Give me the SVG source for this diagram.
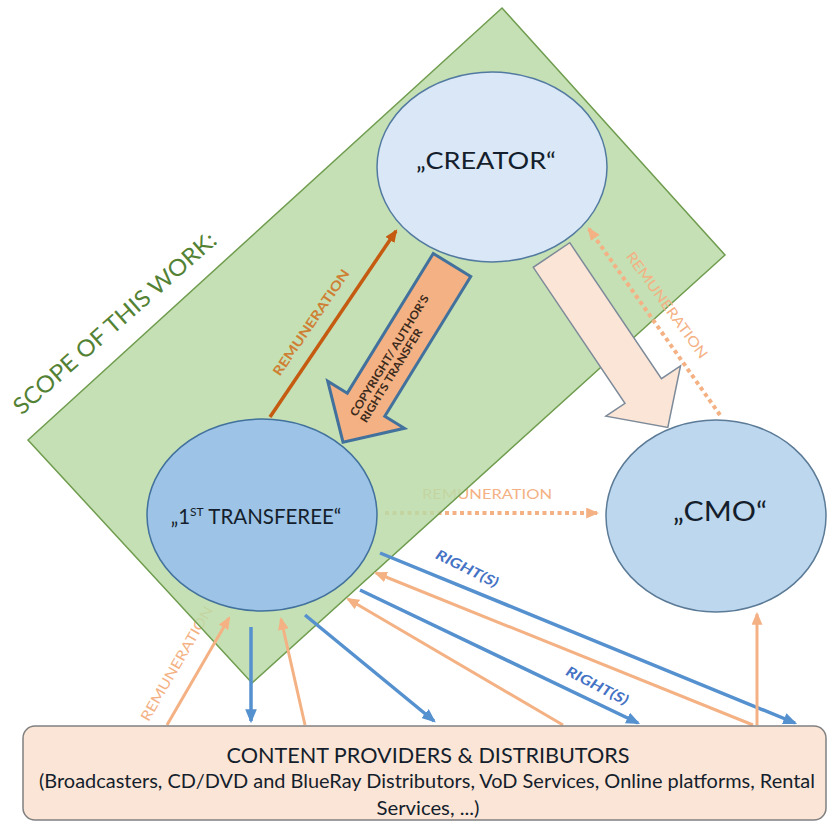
<svg xmlns="http://www.w3.org/2000/svg" width="827" height="822" viewBox="0 0 827 822">
<style>
text{font-family:Lato,"Open Sans","Liberation Sans",sans-serif}
.blue{stroke:#5590cf;stroke-width:3.5;fill:none;marker-end:url(#hb)}
.or{stroke:#f4b183;stroke-width:3;fill:none;marker-end:url(#ho)}
.dot{stroke:#f4b183;stroke-width:4;fill:none;stroke-dasharray:4 3.5;marker-end:url(#ho)}
.lbl{fill:#f4b183;font-size:14px;text-anchor:middle}
.rt{fill:#4472c4;font-size:14px;font-weight:bold;font-style:italic;text-anchor:middle}
.node text{fill:#141e2c;text-anchor:middle}
</style>
<defs>
<marker id="hb" viewBox="0 0 12 10" refX="10" refY="5" markerWidth="14" markerHeight="12" markerUnits="userSpaceOnUse" orient="auto"><path d="M0,0 L12,5 L0,10 z" fill="#5590cf"/></marker>
<marker id="ho" viewBox="0 0 12 10" refX="10" refY="5" markerWidth="13" markerHeight="11" markerUnits="userSpaceOnUse" orient="auto"><path d="M0,0 L12,5 L0,10 z" fill="#f4b183"/></marker>
<marker id="hd" viewBox="0 0 12 10" refX="10" refY="5" markerWidth="13" markerHeight="11" markerUnits="userSpaceOnUse" orient="auto"><path d="M0,0 L12,5 L0,10 z" fill="#c55a11"/></marker>
<path id="barrow" d="M0,-22 L164,-22 L164,-45 L208,0 L164,45 L164,22 L0,22 Z"/>
</defs>

<g id="connectors-under">
<path class="dot" d="M385,513 L597,513"/>
<text class="lbl" x="487" y="499" font-size="16" textLength="130" lengthAdjust="spacingAndGlyphs">REMUNERATION</text>
<text class="lbl" transform="translate(181,666) rotate(-60)" textLength="130" lengthAdjust="spacingAndGlyphs">REMUNERATION</text>
</g>

<g id="scope">
<polygon points="502,8 725,255 252,683 28,440" fill="#bbdba7" fill-opacity="0.85" stroke="#6f9c4e" stroke-width="1.5"/>
<text transform="translate(120,329) rotate(-41.4)" text-anchor="middle" font-size="23" fill="#548235" textLength="262" lengthAdjust="spacingAndGlyphs">SCOPE OF THIS WORK:</text>
</g>

<g id="connectors">
<path class="blue" d="M251,627 L251,721"/>
<path class="blue" d="M305,615 L434,721"/>
<path class="blue" d="M360,590 L638,723"/>
<path class="blue" d="M380,553 L795,723"/>
<path class="or" d="M167,725 L229,618"/>
<path class="or" d="M305,725 L281,619"/>
<path class="or" d="M563,725 L348,599"/>
<path class="or" d="M753,725 L376,573"/>
<path class="or" d="M757,725 L757,614"/>
<path class="dot" d="M720,415 L589,229"/>
<path d="M270,417 L396,231" stroke="#c55a11" stroke-width="3.5" fill="none" marker-end="url(#hd)"/>
<text class="rt" transform="translate(465,573) rotate(26)" textLength="68" lengthAdjust="spacingAndGlyphs">RIGHT(S)</text>
<text class="rt" transform="translate(595,690) rotate(27)" textLength="68" lengthAdjust="spacingAndGlyphs">RIGHT(S)</text>
<text transform="translate(315,325) rotate(-55.8)" text-anchor="middle" font-size="13" font-weight="bold" fill="#cf7f33" textLength="125" lengthAdjust="spacingAndGlyphs">REMUNERATION</text>
<text class="lbl" transform="translate(663,308) rotate(54)" textLength="128" lengthAdjust="spacingAndGlyphs">REMUNERATION</text>
<g id="transfer-arrow">
<use href="#barrow" transform="translate(452,265) rotate(121.6)" fill="#f4b183" stroke="#41719c" stroke-width="3" stroke-linejoin="miter"/>
<text transform="translate(399.6,350.2) rotate(-58.4)" font-size="11" font-weight="bold" fill="#3a2a1c">
<tspan x="-80" y="-2" textLength="140" lengthAdjust="spacingAndGlyphs">COPYRIGHT/ AUTHOR’S</tspan>
<tspan x="-80" y="10" textLength="108" lengthAdjust="spacingAndGlyphs">RIGHTS TRANSFER</tspan>
</text>
</g>
<use id="cmo-arrow" href="#barrow" transform="translate(551.5,255) rotate(56)" fill="#fbe5d6" stroke="#7d8a99" stroke-width="1.5"/>
</g>

<g id="creator" class="node">
<ellipse cx="492" cy="167" rx="115" ry="95" fill="#dae7f6" stroke="#527aa0" stroke-width="1.5"/>
<text x="486" y="169" font-size="23" textLength="140" lengthAdjust="spacingAndGlyphs">„CREATOR“</text>
</g>

<g id="transferee" class="node">
<ellipse cx="262" cy="515" rx="115" ry="96" fill="#9dc3e6" stroke="#41719c" stroke-width="1.5"/>
<text x="256" y="524" font-size="20.5">„1<tspan font-size="12" dy="-8">ST</tspan><tspan dy="8"> TRANSFEREE“</tspan></text>
</g>

<g id="cmo" class="node">
<ellipse cx="716" cy="516" rx="110" ry="96" fill="#bdd7ee" stroke="#5a7a96" stroke-width="1.5"/>
<text x="720" y="521" font-size="26" textLength="94" lengthAdjust="spacingAndGlyphs">„CMO“</text>
</g>

<g id="providers" class="node">
<rect x="23" y="726" width="803" height="94" rx="12" fill="#fbe5d6" stroke="#808080" stroke-width="1.5"/>
<text x="428" y="763" font-size="20.5" textLength="403" lengthAdjust="spacingAndGlyphs">CONTENT PROVIDERS &amp; DISTRIBUTORS</text>
<text x="427" y="788" font-size="19.5" textLength="776" lengthAdjust="spacingAndGlyphs">(Broadcasters, CD/DVD and BlueRay Distributors, VoD Services, Online platforms, Rental</text>
<text x="428" y="815" font-size="19.5" textLength="103" lengthAdjust="spacingAndGlyphs">Services, ...)</text>
</g>
</svg>
